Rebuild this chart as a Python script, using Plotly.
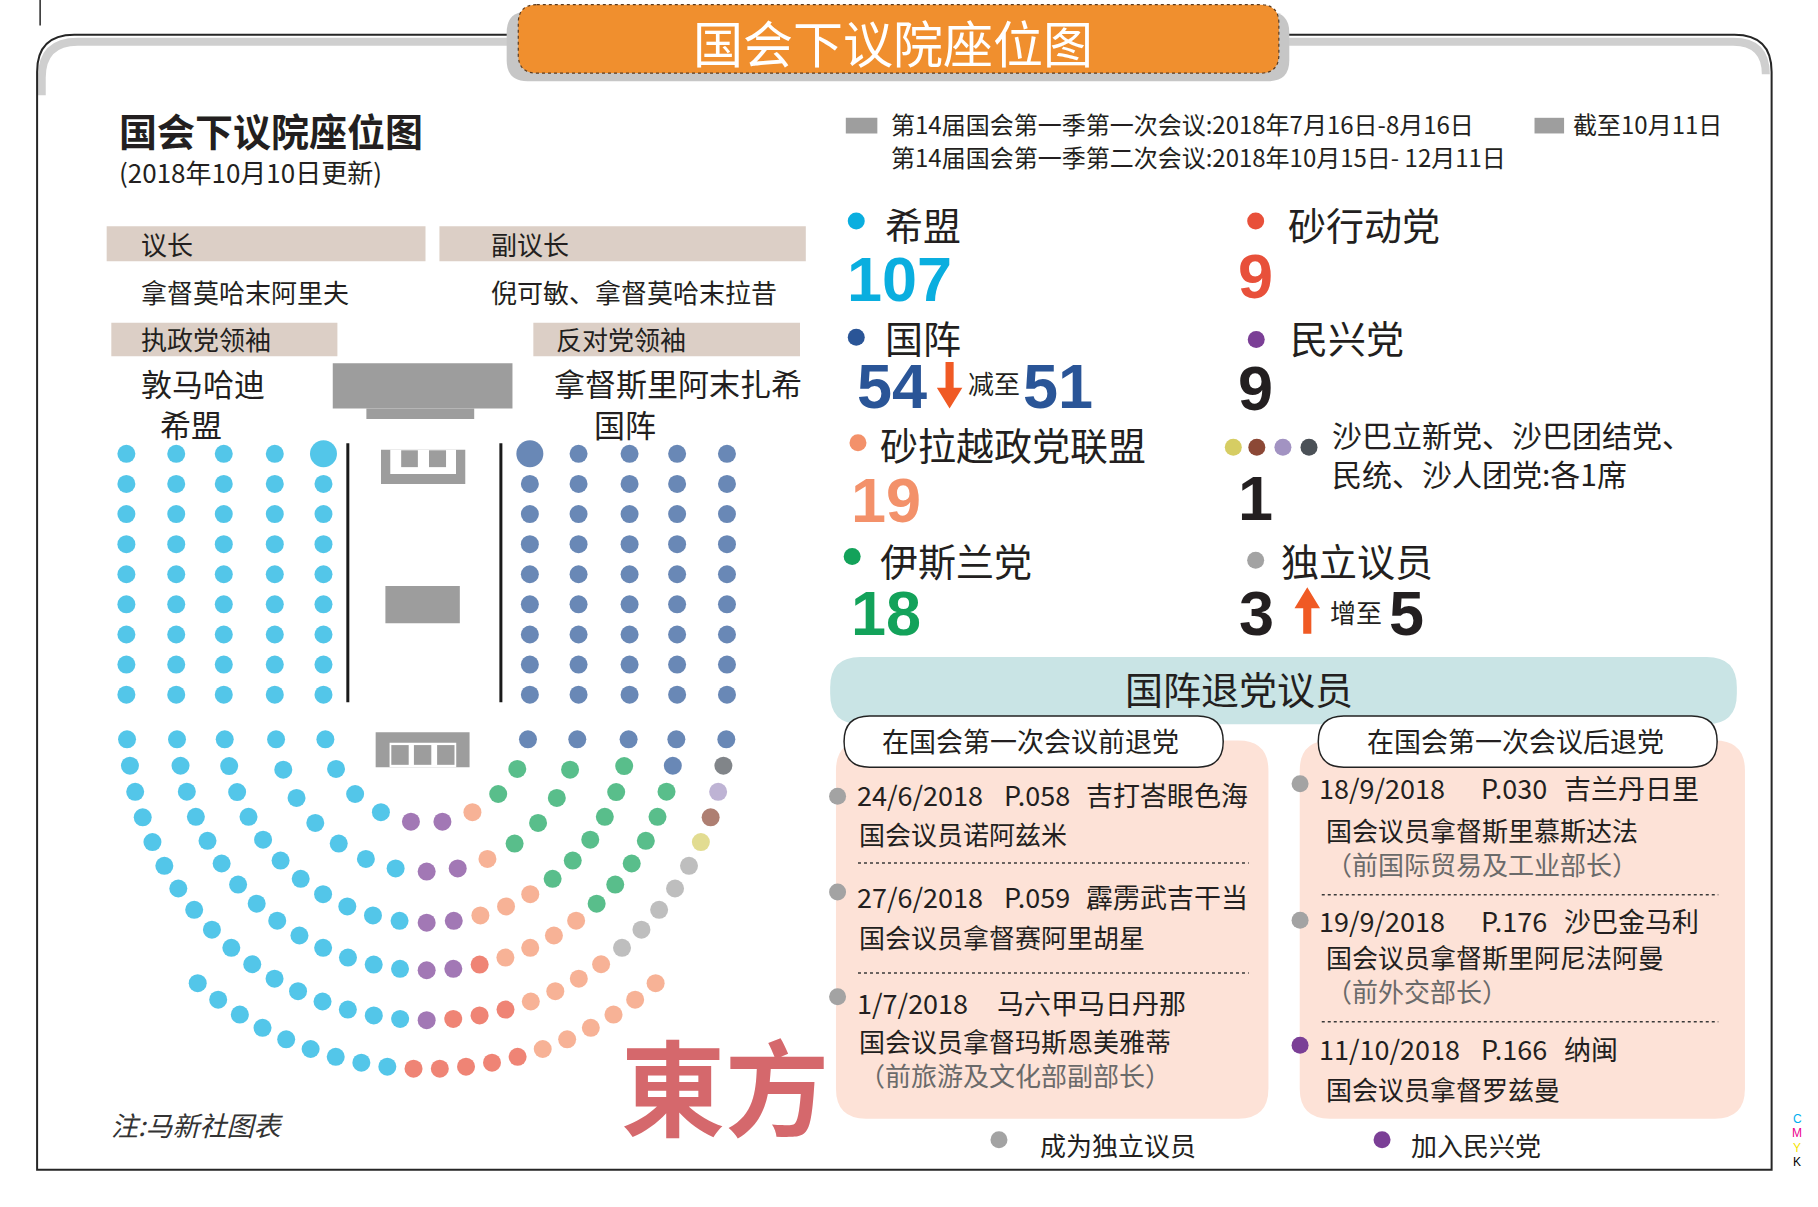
import numpy as np
import plotly.graph_objects as go

# ---------------- data ----------------
PARTIES = ["希盟", "国阵", "砂拉越政党联盟", "伊斯兰党", "砂行动党", "民兴党",
           "沙巴立新党", "沙巴团结党", "民统", "沙人团党", "独立议员"]
SEATS = [107, 51, 19, 18, 9, 9, 1, 1, 1, 1, 5]

# front benches either side of the aisle: 5 columns x 9 rows each
BENCH_COLS = 5
BENCH_ROWS = 9
BENCH_PARTY = ["希盟", "国阵"]

# horseshoe rows, inside -> out, seats listed left -> right
ARC_ROWS = [
    [("希盟", 4), ("民兴党", 2), ("砂拉越政党联盟", 1), ("伊斯兰党", 2), ("国阵", 1)],
    [("希盟", 7), ("民兴党", 2), ("砂拉越政党联盟", 1), ("伊斯兰党", 4), ("国阵", 1)],
    [("希盟", 11), ("民兴党", 2), ("砂拉越政党联盟", 3), ("伊斯兰党", 6), ("国阵", 1)],
    [("希盟", 14), ("民兴党", 2), ("砂行动党", 1), ("砂拉越政党联盟", 4), ("伊斯兰党", 6), ("国阵", 2)],
    [("希盟", 17), ("民兴党", 1), ("砂行动党", 3), ("砂拉越政党联盟", 4), ("独立议员", 5),
     ("沙巴立新党", 1), ("沙巴团结党", 1), ("民统", 1), ("沙人团党", 1), ("国阵", 1)],
    [("希盟", 9), ("砂行动党", 5), ("砂拉越政党联盟", 6)],
]

BN_SEATS = [54, 51]    # before -> after
IND_SEATS = [3, 5]

SESSIONS = ["第14届国会第一季第一次会议:2018年7月16日-8月16日",
            "第14届国会第一季第二次会议:2018年10月15日- 12月11日"]
AS_OF = "截至10月11日"

QUIT_BEFORE_DATE = ["24/6/2018", "27/6/2018", "1/7/2018"]
QUIT_BEFORE_SEAT = ["P.058", "P.059", ""]
QUIT_BEFORE_AREA = ["吉打峇眼色海", "霹雳武吉干当", "马六甲马日丹那"]
QUIT_BEFORE_NAME = ["国会议员诺阿兹米", "国会议员拿督赛阿里胡星", "国会议员拿督玛斯恩美雅蒂"]
QUIT_BEFORE_NOTE = ["", "", "（前旅游及文化部副部长）"]
QUIT_BEFORE_NOW = ["独立议员", "独立议员", "独立议员"]

QUIT_AFTER_DATE = ["18/9/2018", "19/9/2018", "11/10/2018"]
QUIT_AFTER_SEAT = ["P.030", "P.176", "P.166"]
QUIT_AFTER_AREA = ["吉兰丹日里", "沙巴金马利", "纳闽"]
QUIT_AFTER_NAME = ["国会议员拿督斯里慕斯达法", "国会议员拿督斯里阿尼法阿曼", "国会议员拿督罗兹曼"]
QUIT_AFTER_NOTE = ["（前国际贸易及工业部长）", "（前外交部长）", ""]
QUIT_AFTER_NOW = ["独立议员", "独立议员", "民兴党"]

# ---------------- styles ----------------
COLORS = {
    "希盟": "#0aaedf", "国阵": "#2a5597", "砂拉越政党联盟": "#f3916a",
    "伊斯兰党": "#13a25a", "砂行动党": "#e8503a", "民兴党": "#7b3f96",
    "沙巴立新党": "#d6cd63", "沙巴团结党": "#8c4836", "民统": "#a293c2",
    "沙人团党": "#4b5157", "独立议员": "#a3a3a3",
}
CJK = "Noto Sans CJK SC, Noto Sans, sans-serif"
NARROW = "Liberation Sans Narrow, Noto Sans CJK SC, sans-serif"
NUM = "Liberation Sans, Arial, sans-serif"
INK = "#231f20"

W, H = 1818, 1207
VW, VH = 1568, 1040          # drawing units
K = W / VW

# ---------------- seat geometry ----------------
CX, CY = 368, 620
RADII = [89, 131, 175, 216, 259, 301]
BENCH_Y0, BENCH_DY = 391, 25.95
DROP = 17
OUTER_ARC = (131.0, 49.0)
SEAT, BIG = 18, 27

pts = {p: [[], [], []] for p in PARTIES}


def add_seat(p, x, y, s):
    pts[p][0].append(x)
    pts[p][1].append(y)
    pts[p][2].append(s)


for c in range(BENCH_COLS):
    for r in range(BENCH_ROWS):
        y = BENCH_Y0 + r * BENCH_DY
        s = BIG if (c == 0 and r == 0) else SEAT
        add_seat(BENCH_PARTY[0], CX - RADII[c], y, s)
        add_seat(BENCH_PARTY[1], CX + RADII[c], y, s)

for k, row in enumerate(ARC_ROWS):
    seq = [p for p, n in row for _ in range(n)]
    rad = RADII[k]
    if k < len(ARC_ROWS) - 1:
        a = np.degrees(np.arcsin(DROP / rad))
        t0, t1 = 180 - a, a
    else:
        t0, t1 = OUTER_ARC
    for p, t in zip(seq, np.radians(np.linspace(t0, t1, len(seq)))):
        add_seat(p, CX + rad * np.cos(t), CY + rad * np.sin(t), SEAT)

for p, n in zip(PARTIES, SEATS):
    assert len(pts[p][0]) == n, (p, len(pts[p][0]), n)

fig = go.Figure()
for p in PARTIES:
    fig.add_trace(go.Scatter(x=pts[p][0], y=pts[p][1], mode="markers", name=p,
                             marker=dict(size=pts[p][2], color=COLORS[p], line=dict(width=0))))

shapes, ann = [], []


def rect(x0, y0, x1, y1, fill, **kw):
    shapes.append(dict(type="rect", x0=x0, y0=y0, x1=x1, y1=y1, xref="x", yref="y",
                       fillcolor=fill, line=kw.pop("line", dict(width=0)), layer="below", **kw))


def rrect(x0, y0, x1, y1, r, fill, line=None):
    path = (f"M{x0 + r},{y0} L{x1 - r},{y0} Q{x1},{y0} {x1},{y0 + r} L{x1},{y1 - r} "
            f"Q{x1},{y1} {x1 - r},{y1} L{x0 + r},{y1} Q{x0},{y1} {x0},{y1 - r} "
            f"L{x0},{y0 + r} Q{x0},{y0} {x0 + r},{y0} Z")
    shapes.append(dict(type="path", path=path, xref="x", yref="y", fillcolor=fill,
                       line=line or dict(width=0), layer="below"))


def path(d, color, width, fill=None, dash=None):
    shapes.append(dict(type="path", path=d, xref="x", yref="y", layer="below",
                       fillcolor=fill or "rgba(0,0,0,0)",
                       line=dict(color=color, width=width, dash=dash)))


def txt(x, y, s, size, color=INK, family=CJK, anchor="left"):
    ann.append(dict(x=x, y=y, text=s, xref="x", yref="y", showarrow=False,
                    xanchor=anchor, yanchor="middle", align="left",
                    font=dict(size=round(size * K), color=color, family=family)))


# frame and title banner
path("M36,82 L36,67 Q36,36 67,36 L1495,36 Q1523,36 1523,64", "#cfcfcf", 8)
path("M32,1008 L32,62 Q32,30 64,30 L1496,30 Q1528,30 1528,62 L1528,1008 Z", "#262626", 2)
path("M34.6,0 L34.6,22", "#262626", 1.5)
rrect(437, 10, 1112, 70, 18, "#c6c6c6")
rrect(447, 4, 1103, 63, 16, "#f08f2e", dict(color="#5b3b1e", width=1.2, dash="dot"))
txt(770, 35, "国会下议院座位图", 43, "white", anchor="center")

txt(101, 112, "<b>国会下议院座位图</b>", 32.5)
txt(101, 148, "(2018年10月10日更新)", 22.5, family=NARROW)

# officers
BAR = "#dccfc6"
rect(92, 195, 367, 225, BAR)
rect(379, 195, 695, 225, BAR)
rect(96, 278, 291, 307, BAR)
rect(460, 278, 690, 307, BAR)
txt(120, 210, "议长", 22.5)
txt(422, 210, "副议长", 22.5)
txt(120, 251, "拿督莫哈末阿里夫", 22.8)
txt(422, 251, "倪可敏、拿督莫哈末拉昔", 22.8)
txt(120, 292, "执政党领袖", 22.8)
txt(478, 292, "反对党领袖", 22.8)
txt(120, 330, "敦马哈迪", 26.5)
txt(136, 365, "希盟", 26.5)
txt(476, 330, "拿督斯里阿末扎希", 26.5)
txt(511, 365, "国阵", 26.5)

# chamber furniture
GREY = "#9d9d9d"
rect(287, 313, 442, 352, GREY)
rect(316, 352, 409, 361, GREY)
rect(328.6, 387.5, 401.3, 417, GREY)
rect(336.6, 387.5, 393.3, 408.4, "white")
rect(346, 388, 360.4, 402.5, GREY)
rect(370, 388, 384.7, 402.5, GREY)
rect(332.4, 505, 396.6, 537, GREY)
rect(324, 631, 405, 661, GREY)
rect(336, 640, 393.5, 661, "white")
for x0 in (337.5, 357, 377):
    rect(x0, 642, x0 + 15, 659, GREY)
path("M300,382 L300,605", "#1a1a1a", 3)
path("M432,382 L432,605", "#1a1a1a", 3)

# session legend
rect(729.5, 101.5, 756.7, 115, "#9e9e9e")
rect(1323.5, 101.5, 1349, 115, "#9e9e9e")
txt(767, 106.5, SESSIONS[0], 21, family=NARROW)
txt(767, 135, SESSIONS[1], 21, family=NARROW)
txt(1355, 106.5, AS_OF, 21, family=NARROW)

# party tally
S = dict(zip(PARTIES, SEATS))
dot_x, dot_y, dot_c = [], [], []


def dot(x, y, c):
    dot_x.append(x)
    dot_y.append(y)
    dot_c.append(c)


LEGEND = [("希盟", 738.5, 190.5, 762, 193), ("砂行动党", 1083, 190.5, 1109, 193),
          ("国阵", 738.5, 290.5, 762, 290), ("民兴党", 1083.5, 292.5, 1111, 290),
          ("砂拉越政党联盟", 740, 381.5, 757, 382), ("伊斯兰党", 735, 479.5, 757, 482),
          ("独立议员", 1083, 482.7, 1103, 482)]
for p, dx, dy, lx, ly in LEGEND:
    dot(dx, dy, COLORS[p])
    txt(lx, ly, p, 32.5)
SMALL = ["沙巴立新党", "沙巴团结党", "民统", "沙人团党"]
for p, dx in zip(SMALL, [1063.7, 1084, 1106.5, 1129]):
    dot(dx, 385.3, COLORS[p])
txt(1147, 391, "、".join(SMALL[:2]) + "、<br>" + "、".join(SMALL[2:]) + ":各"
    + str(S[SMALL[0]]) + "席", 26.2)

BIGN = 54
txt(729, 240, f"<b>{S['希盟']}</b>", BIGN, COLORS["希盟"], NUM)
txt(1066, 238, f"<b>{S['砂行动党']}</b>", BIGN, COLORS["砂行动党"], NUM)
txt(737, 333, f"<b>{BN_SEATS[0]}</b>", BIGN, COLORS["国阵"], NUM)
txt(833, 330, "减至", 22)
txt(881, 333, f"<b>{BN_SEATS[1]}</b>", BIGN, COLORS["国阵"], NUM)
txt(1066, 334, f"<b>{S['民兴党']}</b>", BIGN, INK, NUM)
txt(732, 431, f"<b>{S['砂拉越政党联盟']}</b>", BIGN, COLORS["砂拉越政党联盟"], NUM)
txt(1066, 429, f"<b>{S['沙巴立新党']}</b>", BIGN, INK, NUM)
txt(732, 528, f"<b>{S['伊斯兰党']}</b>", BIGN, COLORS["伊斯兰党"], NUM)
txt(1067, 528, f"<b>{IND_SEATS[0]}</b>", BIGN, INK, NUM)
txt(1145, 527, "增至", 22)
txt(1196, 528, f"<b>{IND_SEATS[1]}</b>", BIGN, INK, NUM)
ARROW = "#f05a24"
path("M815.5,312 L822.5,312 L822.5,334 L830,334 L819,352 L808,334 L815.5,334 Z", ARROW, 0, ARROW)
path("M1124,546 L1131,546 L1131,524 L1138.5,524 L1127.5,506 L1116.5,524 L1124,524 Z", ARROW, 0, ARROW)

# defectors
rrect(716, 566, 1498, 624, 26, "#c9e4e5")
txt(1069, 592, "国阵退党议员", 33, anchor="center")
PINK = "#fde2d7"
rrect(721, 638, 1094, 964, 26, PINK)
rrect(1121, 638, 1505, 964, 26, PINK)
rrect(728, 617, 1055, 661, 22, "white", dict(color="#222", width=1.5))
rrect(1137, 617, 1481, 661, 22, "white", dict(color="#222", width=1.5))
txt(889, 638, "在国会第一次会议前退党", 23, anchor="center")
txt(1307, 638, "在国会第一次会议后退党", 23, anchor="center")

PANELS = [
    dict(date=QUIT_BEFORE_DATE, seat=QUIT_BEFORE_SEAT, area=QUIT_BEFORE_AREA,
         name=QUIT_BEFORE_NAME, note=QUIT_BEFORE_NOTE, now=QUIT_BEFORE_NOW,
         dx=722.4, x=737.6, sx=864, nx=739, y1=[684.5, 772.3, 864], y2=[718, 806.5, 896.5],
         dy=[686, 768.5, 858.8], seps=[743.5, 838.4], sep_x=(740, 1077)),
    dict(date=QUIT_AFTER_DATE, seat=QUIT_AFTER_SEAT, area=QUIT_AFTER_AREA,
         name=QUIT_AFTER_NAME, note=QUIT_AFTER_NOTE, now=QUIT_AFTER_NOW,
         dx=1121.3, x=1135.5, sx=1276, nx=1142, y1=[678.4, 793, 903.8], y2=[715, 824.3, 937.5],
         dy=[675.4, 793, 900.7], seps=[771, 880.3], sep_x=(1140, 1482)),
]
NOTE_GAP = 29.5
for pn in PANELS:
    for i in range(len(pn["date"])):
        dot(pn["dx"], pn["dy"][i], COLORS[pn["now"][i]])
        txt(pn["x"], pn["y1"][i], pn["date"][i], 23.4, family=NARROW)
        if pn["seat"][i]:
            txt(pn["sx"], pn["y1"][i], pn["seat"][i], 23.4, family=NARROW)
            ax = pn["sx"] + 71
        else:
            ax = pn["sx"] - 6
        txt(ax, pn["y1"][i], pn["area"][i], 23.4)
        if pn["note"][i]:
            body = (pn["name"][i] + "<br><span style='color:#6a6a6a'>"
                    + pn["note"][i] + "</span>")
            txt(pn["nx"], pn["y2"][i] + NOTE_GAP / 2, body, 22.8)
        else:
            txt(pn["nx"], pn["y2"][i], pn["name"][i], 22.8)
    for sy in pn["seps"]:
        path(f"M{pn['sep_x'][0]},{sy} L{pn['sep_x'][1]},{sy}", "#3a3a3a", 1.5, dash="dot")

dot(861.6, 982, COLORS["独立议员"])
txt(895, 986, "成为" + "独立议员", 22.6)
dot(1192, 982, COLORS["民兴党"])
txt(1215, 986, "加入" + "民兴党", 22.6)

fig.add_trace(go.Scatter(x=dot_x, y=dot_y, mode="markers",
                         marker=dict(size=17, color=dot_c, line=dict(width=0))))

# footer bits
txt(94, 969, "<i>注:马新社图表</i>", 23.5, "#333333")
txt(625, 934, "<b>東方</b>", 90, "#d5686c", "Noto Sans CJK TC, Noto Sans CJK SC, sans-serif", "center")
for ch, cy, col in zip("CMYK", [964, 976.5, 989, 1001], ["#00aeef", "#ec008c", "#f5e400", "#000000"]):
    txt(1550, cy, ch, 10.5, col, NUM, "center")

fig.update_layout(
    width=W, height=H, margin=dict(l=0, r=0, t=0, b=0),
    paper_bgcolor="white", plot_bgcolor="white", showlegend=False, hovermode=False,
    xaxis=dict(range=[0, VW], visible=False, fixedrange=True),
    yaxis=dict(range=[VH, 0], visible=False, fixedrange=True),
    shapes=shapes, annotations=ann,
)
fig.write_html("out.html", config={"displayModeBar": False},
               post_script="document.body.style.margin='0';document.body.style.overflow='hidden';")
